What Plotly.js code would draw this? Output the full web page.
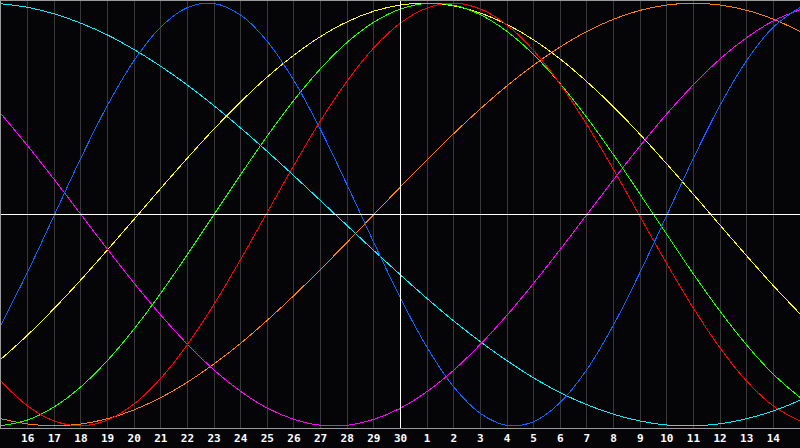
<!DOCTYPE html>
<html>
<head>
<meta charset="utf-8">
<script src="https://cdn.plot.ly/plotly-3.0.1.min.js"></script>
<style>
html,body{margin:0;padding:0;background:#050508;}
#chart{width:800px;height:448px;}
#chart path.js-line{shape-rendering:crispEdges;}
</style>
</head>
<body>
<div id="chart"></div>
<script>
// day positions (index 0..30) and their labels
const dayIndex = [0,1,2,3,4,5,6,7,8,9,10,11,12,13,14,15,16,17,18,19,20,21,22,23,24,25,26,27,28,29,30];
const tickPositions = [1,2,3,4,5,6,7,8,9,10,11,12,13,14,15,16,17,18,19,20,21,22,23,24,25,26,27,28,29];
const tickLabels = ["16","17","18","19","20","21","22","23","24","25","26","27","28","29","30","1","2","3","4","5","6","7","8","9","10","11","12","13","14"];
const todayIndex = 15;

// curve values (percent, -100..100) read at each day
const cycle23 = [-52.2,-27.2,-0.3,26.7,51.7,72.9,88.7,97.9,99.8,94.3,81.9,63.3,40.1,13.9,-13.3,-39.6,-62.9,-81.6,-94.1,-99.8,-98.0,-88.9,-73.3,-52.2,-27.2,-0.3,26.7,51.7,72.9,88.7,97.9];
const cycle28 = [-78.9,-90.6,-97.7,-100.0,-97.2,-89.6,-77.5,-61.5,-42.4,-21.2,1.1,23.3,44.4,63.2,78.9,90.6,97.7,100.0,97.2,89.6,77.5,61.5,42.4,21.2,-1.1,-23.3,-44.4,-63.2,-78.9,-90.6,-97.7];
const cycle33 = [-99.9,-97.2,-91.0,-81.5,-69.0,-54.1,-37.2,-18.9,0.0,18.9,37.2,54.1,69.0,81.5,91.0,97.2,99.9,99.0,94.5,86.6,75.6,61.8,45.8,28.2,9.5,-9.5,-28.2,-45.8,-61.8,-75.6,-86.6];
const cycle38 = [47.6,32.5,16.5,0.0,-16.5,-32.5,-47.6,-61.4,-73.6,-83.7,-91.6,-96.9,-99.7,-99.7,-96.9,-91.6,-83.7,-73.6,-61.4,-47.6,-32.5,-16.5,0.0,16.5,32.5,47.6,61.4,73.6,83.7,91.6,96.9];
const cycle43 = [-68.4,-57.0,-44.4,-30.9,-16.7,-2.2,12.4,26.7,40.5,53.3,65.1,75.4,84.2,91.2,96.2,99.1,100.0,98.7,95.3,89.9,82.6,73.5,62.8,50.9,37.8,23.9,9.5,-5.1,-19.6,-33.7,-47.0];
const cycle48 = [-96.6,-99.1,-100.0,-99.1,-96.6,-92.4,-86.6,-79.3,-70.7,-60.9,-50.0,-38.3,-25.9,-13.1,0.0,13.1,25.9,38.3,50.0,60.9,70.7,79.3,86.6,92.4,96.6,99.1,100.0,99.1,96.6,92.4,86.6];
const cycle53 = [99.7,98.0,94.9,90.5,84.9,78.0,70.1,61.2,51.4,40.9,29.8,18.3,6.5,-5.3,-17.1,-28.6,-39.8,-50.4,-60.2,-69.2,-77.3,-84.3,-90.0,-94.5,-97.7,-99.6,-100.0,-99.0,-96.6,-92.9,-87.9];

const series = [
  {name:"53", y:cycle53, color:"#00f0ff"},
  {name:"48", y:cycle48, color:"#ff8000"},
  {name:"43", y:cycle43, color:"#ffff00"},
  {name:"38", y:cycle38, color:"#ff00ff"},
  {name:"33", y:cycle33, color:"#20ff00"},
  {name:"28", y:cycle28, color:"#ff0000"},
  {name:"23", y:cycle23, color:"#0a64ff"}
];

const traces = series.map(s => ({
  type:"scatter", mode:"lines", name:s.name, x:dayIndex, y:s.y,
  line:{color:s.color, width:1, shape:"spline", smoothing:1},
  hoverinfo:"skip"
}));

const layout = {
  width:800, height:448,
  margin:{l:1, r:0, t:1, b:20},
  paper_bgcolor:"#050508", plot_bgcolor:"#050508",
  showlegend:false,
  xaxis:{
    range:[0,30], tickmode:"array", tickvals:tickPositions, ticktext:tickLabels,
    showgrid:true, gridcolor:"#383838", gridwidth:1, zeroline:false,
    showline:true, linecolor:"#9a9a9a", linewidth:1, mirror:true,
    ticks:"", tickfont:{family:"DejaVu Sans Mono", size:11, color:"#ffffff", weight:"bold"}
  },
  yaxis:{
    range:[-101,101], showgrid:false, zeroline:false, showticklabels:false,
    showline:true, linecolor:"#9a9a9a", linewidth:1, ticks:""
  },
  shapes:[
    {type:"line", xref:"x", yref:"paper", x0:todayIndex, x1:todayIndex, y0:0, y1:1, layer:"above", line:{color:"#ffffff", width:1}},
    {type:"line", xref:"paper", yref:"y", x0:0, x1:1, y0:0, y1:0, layer:"above", line:{color:"#ffffff", width:1}}
  ]
};

Plotly.newPlot("chart", traces, layout, {staticPlot:true, displayModeBar:false});
</script>
</body>
</html>
